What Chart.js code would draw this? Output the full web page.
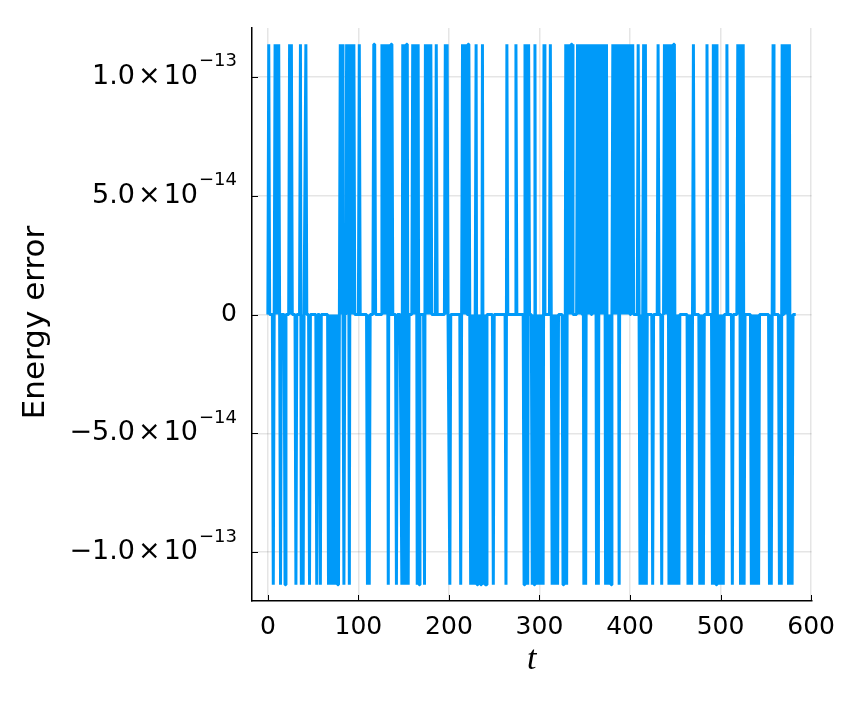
<!DOCTYPE html>
<html>
<head>
<meta charset="utf-8">
<script src="https://cdn.jsdelivr.net/npm/chart.js@4.4.1/dist/chart.umd.min.js"></script>
<style>
  html, body { margin: 0; padding: 0; background: #fff; }
  #wrap { width: 846px; height: 705px; }
</style>
</head>
<body>
<div id="wrap"><canvas id="errChart" width="846" height="705"></canvas></div>
<script>
// energy error, sampled once per unit of t; any step not listed below is exactly 0
var tLast = 583;
var errStep = Math.pow(2, -43); // the jump size, ~1.137e-13

// steps where the error sits at +errStep
var upT = [1, 8, 10, 12, 24, 26, 36, 42, 80, 82, 87, 89, 91, 93, 95, 101, 117, 118,
  126, 128, 130, 132, 134, 136, 137, 149, 151, 153, 154, 160, 162, 164, 166,
  174, 176, 178, 180, 186, 196, 198, 215, 217, 219, 221, 222, 230, 237, 264, 274,
  284, 286, 288, 295, 305, 312, 329, 331, 333, 335, 336,
  342, 344, 346, 348, 350, 352, 354, 356, 358, 360, 362, 364, 366, 368, 370, 372, 374,
  381, 383, 385, 387, 389, 391, 393, 395, 397, 399, 401, 403, 409, 415, 417, 431,
  438, 440, 442, 444, 446, 448, 449, 470, 485, 492, 494, 496, 507, 519, 521, 523, 525,
  558, 568, 570, 572, 574, 576];

// steps where the error sits at -errStep
var downT = [6, 14, 19, 31, 37, 39, 46, 54, 58, 67, 69, 71, 73, 75, 77, 78, 84, 90,
  110, 112, 133, 142, 148, 150, 152, 155, 165, 167, 173, 201, 213,
  224, 226, 228, 231, 233, 235, 236, 238, 240, 241, 249, 263, 283, 285, 287,
  292, 294, 296, 298, 300, 302, 304, 314, 316, 318, 320, 326, 328, 330,
  349, 351, 363, 365, 373, 375, 377, 379, 388, 411, 413, 416, 418, 425, 435,
  443, 445, 447, 450, 452, 454, 464, 466, 468, 477, 479, 481,
  491, 493, 495, 497, 499, 501, 503, 513, 522, 524, 526, 534, 536, 538, 540, 542,
  554, 556, 565, 567, 575, 577, 579];

var xTicks = [0, 100, 200, 300, 400, 500, 600];
var yTicks = [-1e-13, -5e-14, 0, 5e-14, 1e-13];
var yTickMant = ['\u22121.0', '\u22125.0', '0', '5.0', '1.0'];
var yTickExp = ['\u221213', '\u221214', '', '\u221214', '\u221213'];

var points = [];
for (var t = 0; t <= tLast; t++) {
  var v = 0;
  if (upT.indexOf(t) >= 0) v = errStep;
  else if (downT.indexOf(t) >= 0) v = -errStep;
  points.push({ x: t, y: v });
}

// inward tick marks, y labels as mantissa x 10^exp, axis titles
var axisDecor = {
  id: 'axisDecor',
  afterDraw: function(chart) {
    var ctx = chart.ctx;
    var xs = chart.scales.x;
    var ys = chart.scales.y;
    var area = chart.chartArea;
    ctx.save();

    ctx.strokeStyle = '#000';
    ctx.lineWidth = 1;
    xTicks.forEach(function(val) {
      var px = Math.round(xs.getPixelForValue(val)) + 0.5;
      ctx.beginPath();
      ctx.moveTo(px, area.bottom);
      ctx.lineTo(px, area.bottom - 6);
      ctx.stroke();
    });
    yTicks.forEach(function(val) {
      var py = Math.round(ys.getPixelForValue(val)) + 0.5;
      ctx.beginPath();
      ctx.moveTo(area.left, py);
      ctx.lineTo(area.left + 6, py);
      ctx.stroke();
    });

    ctx.fillStyle = '#000';
    ctx.textAlign = 'right';
    ctx.textBaseline = 'middle';
    yTicks.forEach(function(val, i) {
      var py = ys.getPixelForValue(val);
      var x = area.left - 15;
      if (!yTickExp[i]) {
        ctx.font = '25px "DejaVu Sans"';
        ctx.fillText(yTickMant[i], x, py);
        return;
      }
      ctx.font = '18px "DejaVu Sans"';
      ctx.fillText(yTickExp[i], x, py - 15);
      x -= ctx.measureText(yTickExp[i]).width + 1;
      ctx.font = '27px "DejaVu Sans"';
      ctx.fillText('10', x, py);
      x -= ctx.measureText('10').width + 3;
      ctx.fillText('\u00d7', x, py);
      x -= ctx.measureText('\u00d7').width + 3;
      ctx.fillText(yTickMant[i], x, py);
    });

    ctx.textAlign = 'center';
    ctx.font = 'italic 34px "Liberation Serif"';
    ctx.fillText('t', (area.left + area.right) / 2, 660);

    ctx.translate(36, (area.top + area.bottom) / 2 + 8);
    ctx.rotate(-Math.PI / 2);
    ctx.font = '31px "DejaVu Sans"';
    ctx.fillText('Energy error', 0, 0);
    ctx.restore();
  }
};

var ctxErr = document.getElementById('errChart').getContext('2d');
var errChart = new Chart(ctxErr, {
  type: 'line',
  data: {
    datasets: [{
      label: 'y1',
      data: points,
      borderColor: '#009af9',
      borderWidth: 3,
      borderJoinStyle: 'bevel',
      pointRadius: 0,
      tension: 0,
      fill: false
    }]
  },
  options: {
    responsive: false,
    animation: false,
    devicePixelRatio: 1,
    layout: {
      padding: { top: 28, right: 28, left: 0, bottom: 0 }
    },
    plugins: {
      legend: { display: false },
      tooltip: { enabled: false }
    },
    scales: {
      x: {
        type: 'linear',
        min: -17.5,
        max: 600.5,
        afterBuildTicks: function(scale) {
          scale.ticks = xTicks.map(function(v) { return { value: v }; });
        },
        afterFit: function(scale) { scale.height = 104; },
        grid: { color: 'rgba(0,0,0,0.1)', lineWidth: 1.5, drawTicks: false },
        border: { display: true, color: '#000', width: 1.5 },
        ticks: {
          color: '#000',
          padding: 11,
          maxRotation: 0,
          font: { family: 'DejaVu Sans', size: 25 }
        }
      },
      y: {
        type: 'linear',
        min: -1.2051e-13,
        max: 1.2051e-13,
        afterBuildTicks: function(scale) {
          scale.ticks = yTicks.map(function(v) { return { value: v }; });
        },
        afterFit: function(scale) { scale.width = 252; },
        grid: { color: 'rgba(0,0,0,0.1)', lineWidth: 1.5, drawTicks: false },
        border: { display: true, color: '#000', width: 1.5 },
        ticks: { display: false }
      }
    }
  },
  plugins: [axisDecor]
});
</script>
</body>
</html>
